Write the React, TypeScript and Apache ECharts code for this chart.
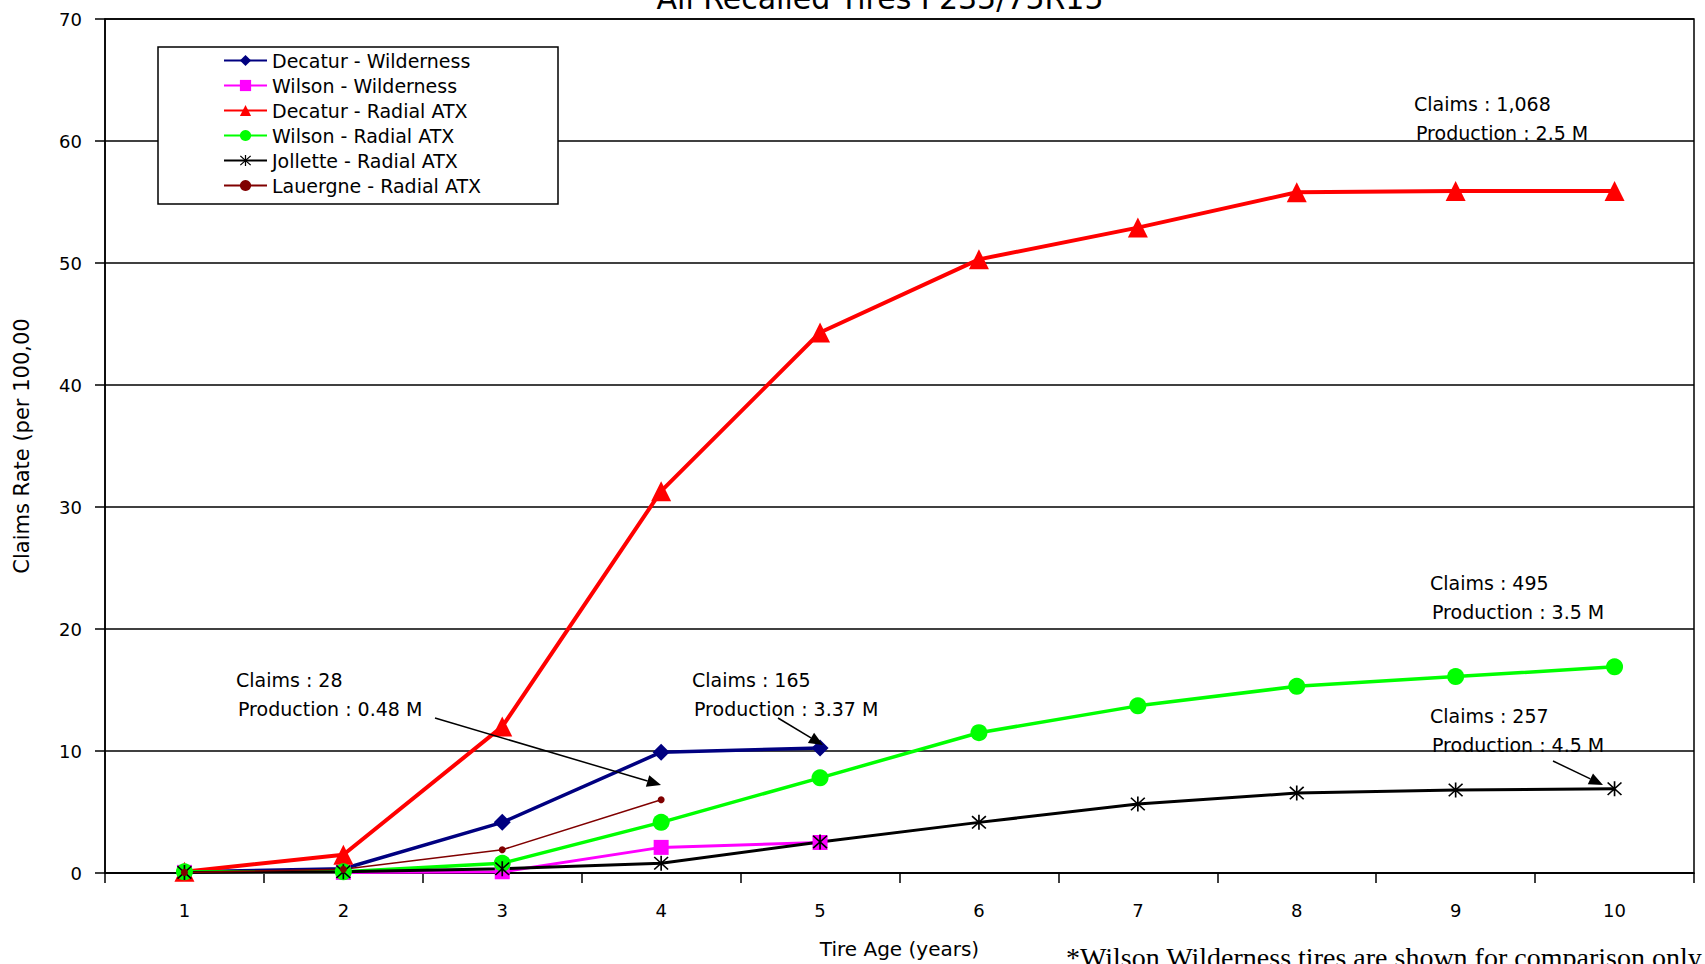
import React, { useEffect, useRef } from "react";
import * as echarts from "echarts";

const categories = ["1", "2", "3", "4", "5", "6", "7", "8", "9", "10"];
const seriesNames = [
  "Decatur - Wilderness",
  "Wilson - Wilderness",
  "Decatur - Radial ATX",
  "Wilson - Radial ATX",
  "Jollette - Radial ATX",
  "Lauergne - Radial ATX",
];
const decaturWilderness = [0.1, 0.35, 4.15, 9.9, 10.25, null, null, null, null, null];
const wilsonWilderness = [0.05, 0.05, 0.1, 2.1, 2.5, null, null, null, null, null];
const decaturRadial = [0.1, 1.5, 12.0, 31.3, 44.3, 50.3, 52.9, 55.8, 55.9, 55.9];
const wilsonRadial = [0.1, 0.1, 0.8, 4.15, 7.8, 11.5, 13.7, 15.3, 16.1, 16.9];
const jolletteRadial = [0.05, 0.1, 0.35, 0.8, 2.55, 4.15, 5.65, 6.55, 6.8, 6.9];
const lauergneRadial = [0.05, 0.3, 1.9, 6.0, null, null, null, null, null, null];
const yTicks = { min: 0, max: 70, interval: 10 };

const annotations = [
  ["Claims : 28", "Production : 0.48 M"],
  ["Claims : 165", "Production : 3.37 M"],
  ["Claims : 1,068", "Production : 2.5 M"],
  ["Claims : 495", "Production : 3.5 M"],
  ["Claims : 257", "Production : 4.5 M"],
];
const titleText = "All Recalled Tires P235/75R15";
const footnote = "*Wilson Wilderness tires are shown for comparison only";

const SANS = "DejaVu Sans";
const asterisk =
  "path://M9,0 H11 V20 H9 Z M1,2.4 L2.4,1 L19,17.6 L17.6,19 Z M17.6,1 L19,2.4 L2.4,19 L1,17.6 Z";

function arrow(x1: number, y1: number, x2: number, y2: number) {
  const dx = x2 - x1, dy = y2 - y1, L = Math.hypot(dx, dy);
  const ux = dx / L, uy = dy / L;
  const hl = 14, hw = 6;
  const bx = x2 - ux * hl, by = y2 - uy * hl;
  return [
    { type: "line", z: 20, shape: { x1, y1, x2: bx, y2: by }, style: { stroke: "#000", lineWidth: 1.5 } },
    {
      type: "polygon",
      z: 20,
      shape: { points: [[x2, y2], [bx - uy * hw, by + ux * hw], [bx + uy * hw, by - ux * hw]] },
      style: { fill: "#000" },
    },
  ];
}

function annot(lines: string[], x: number, y: number) {
  return lines.map((t, i) => ({
    type: "text",
    z: 20,
    x: x + i * 2,
    y: y + i * 29,
    style: { text: t, fill: "#000", font: `19px "${SANS}"`, align: "left", verticalAlign: "middle" },
  }));
}

export default function App() {
  const ref = useRef<HTMLDivElement>(null);
  useEffect(() => {
    const chart = echarts.init(ref.current!, null, { renderer: "svg" });
    const mk = (name: string, data: any[], color: string, symbol: string, size: number, width: number) => ({
      name,
      type: "line",
      data,
      symbol,
      symbolSize: size,
      showAllSymbol: true,
      connectNulls: false,
      itemStyle: { color },
      lineStyle: { color, width },
      emphasis: { disabled: true },
    });
    chart.setOption({
      animation: false,
      backgroundColor: "#fff",
      title: {
        text: titleText,
        left: 875,
        textAlign: "center",
        top: -22,
        textStyle: { fontFamily: SANS, fontSize: 30, fontWeight: "normal", color: "#000" },
      },
      grid: { left: 105, right: 11, top: 19, bottom: 84, show: true, borderColor: "#000", borderWidth: 1.5, backgroundColor: "transparent" },
      legend: {
        left: 218,
        top: 46,
        orient: "vertical",
        itemWidth: 43,
        itemHeight: 14,
        itemGap: 6,
        z: 10,
        textStyle: { fontFamily: SANS, fontSize: 19, color: "#000" },
        data: seriesNames,
      },
      xAxis: {
        type: "category",
        data: categories,
        boundaryGap: true,
        name: "Tire Age (years)",
        nameLocation: "middle",
        nameGap: 66,
        nameTextStyle: { fontFamily: SANS, fontSize: 20, color: "#000" },
        axisLine: { lineStyle: { color: "#000", width: 1.5 } },
        axisTick: { show: true, length: 10, lineStyle: { color: "#000", width: 1.5 } },
        axisLabel: { fontFamily: SANS, fontSize: 18, color: "#000", margin: 28 },
        splitLine: { show: false },
      },
      yAxis: {
        type: "value",
        min: yTicks.min,
        max: yTicks.max,
        interval: yTicks.interval,
        name: "Claims Rate (per 100,00",
        nameLocation: "middle",
        nameGap: 73,
        nameTextStyle: { fontFamily: SANS, fontSize: 21, color: "#000" },
        axisLine: { show: true, lineStyle: { color: "#000", width: 1.5 } },
        axisTick: { show: true, length: 10, lineStyle: { color: "#000", width: 1.5 } },
        axisLabel: { fontFamily: SANS, fontSize: 18, color: "#000", margin: 23 },
        splitLine: { show: true, lineStyle: { color: "#000", width: 1.5 } },
      },
      series: [
        mk(seriesNames[0], decaturWilderness, "#000080", "diamond", 17, 3.5),
        mk(seriesNames[1], wilsonWilderness, "#ff00ff", "rect", 15, 3),
        mk(seriesNames[2], decaturRadial, "#ff0000", "triangle", 20, 4),
        mk(seriesNames[3], wilsonRadial, "#00ff00", "circle", 17, 3.5),
        mk(seriesNames[4], jolletteRadial, "#000000", asterisk, 15, 3),
        mk(seriesNames[5], lauergneRadial, "#800000", "circle", 7, 1.5),
      ],
      graphic: [
        {
          type: "rect",
          z: 5,
          shape: { x: 158, y: 47, width: 400, height: 157 },
          style: { fill: "#fff", stroke: "#000", lineWidth: 1.5 },
        },
        ...annot(annotations[0], 236, 680),
        ...annot(annotations[1], 692, 680),
        ...annot(annotations[2], 1414, 104),
        ...annot(annotations[3], 1430, 583),
        ...annot(annotations[4], 1430, 716),
        ...arrow(435, 718, 661, 785),
        ...arrow(778, 718, 823, 745),
        ...arrow(1553, 761, 1603, 785),
        {
          type: "text",
          z: 20,
          x: 1066,
          y: 943,
          style: { text: footnote, fill: "#000", font: `28px "Liberation Serif"`, align: "left", verticalAlign: "top" },
        },
      ],
    });
    return () => chart.dispose();
  }, []);
  return <div ref={ref} style={{ position: "absolute", left: 0, top: 0, width: 1705, height: 964 }} />;
}
